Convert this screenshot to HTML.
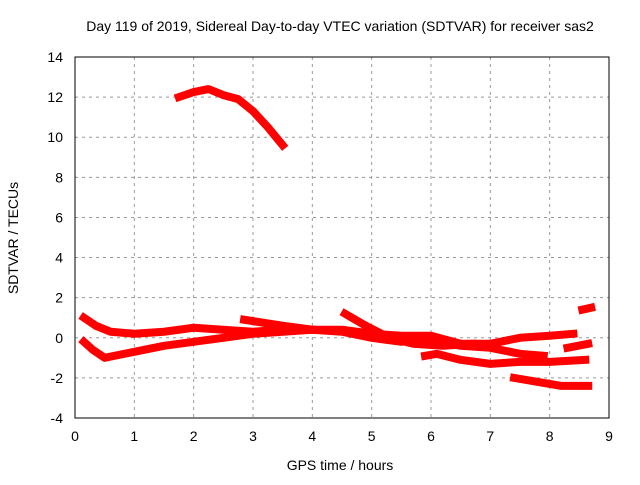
<!DOCTYPE html>
<html><head><meta charset="utf-8"><style>
body{margin:0;background:#fff}
svg text{font-family:"Liberation Sans",sans-serif;font-size:14px}
</style></head><body>
<svg id="chart" width="640" height="480">
<rect width="640" height="480" fill="#fff"/>
<text x="340" y="31" text-anchor="middle">Day 119 of 2019, Sidereal Day-to-day VTEC variation (SDTVAR) for receiver sas2</text>
<text x="340" y="470" text-anchor="middle">GPS time / hours</text>
<text transform="translate(18,238) rotate(-90)" text-anchor="middle">SDTVAR / TECUs</text>
<g id="grid"></g><g id="series"></g>
<rect x="75" y="57" width="534" height="361" fill="none" stroke="#000"/>
</svg>
<script>
const xTicks=[0,1,2,3,4,5,6,7,8,9];
const yTicks=[-4,-2,0,2,4,6,8,10,12,14];
const trackA=[[1.75,12.0],[2.0,12.25],[2.25,12.4],[2.5,12.1],[2.75,11.9],[3.0,11.3],[3.25,10.5],[3.5,9.6]];
const trackB=[[0.15,1.0],[0.35,0.6],[0.6,0.3],[1.0,0.2],[1.5,0.3],[2.0,0.5],[2.5,0.4],[3.0,0.3],[3.5,0.4],[4.0,0.4]];
const trackC=[[0.15,-0.2],[0.3,-0.6],[0.5,-1.0],[1.0,-0.7],[1.5,-0.4],[2.0,-0.2],[2.5,0.0],[3.0,0.2],[3.5,0.3],[4.0,0.4],[4.5,0.4],[5.0,0.2],[5.5,0.1],[6.0,0.1],[6.5,-0.3],[7.0,-0.3],[7.5,0.0],[8.0,0.1],[8.4,0.2]];
const trackD=[[2.85,0.9],[3.5,0.6],[4.0,0.4],[4.5,0.3],[5.0,0.0],[5.5,-0.2],[6.0,-0.1],[6.5,-0.4],[7.0,-0.5],[7.5,-0.8],[7.9,-0.9]];
const trackE=[[4.55,1.2],[4.9,0.6],[5.3,0.0],[5.7,-0.3],[6.2,-0.4],[6.7,-0.3]];
const trackF=[[5.9,-0.9],[6.1,-0.8],[6.5,-1.1],[7.0,-1.3],[7.5,-1.2],[8.0,-1.2],[8.6,-1.1]];
const trackG=[[7.4,-2.0],[7.8,-2.2],[8.2,-2.4],[8.65,-2.4]];
const trackH=[[8.3,-0.5],[8.65,-0.3]];
const trackI=[[8.55,1.4],[8.7,1.5]];
const tracks=[trackA,trackB,trackC,trackD,trackE,trackF,trackG,trackH,trackI];
const NS="http://www.w3.org/2000/svg";
const X=v=>75+v*534/9, Y=v=>418-(v+4)*361/18;
const grid=document.getElementById('grid'), ser=document.getElementById('series');
function mk(tag,at,parent){const e=document.createElementNS(NS,tag);for(const k in at)e.setAttribute(k,at[k]);parent.appendChild(e);return e;}
xTicks.forEach(t=>{
 if(t>0&&t<9){const l=mk('line',{x1:X(t),x2:X(t),y1:57,y2:418,stroke:'#999','stroke-dasharray':'3,4'},grid);
 
 }
 const tx=mk('text',{x:X(t),y:441,'text-anchor':'middle'},grid);tx.textContent=t;
 
 
});
yTicks.forEach(t=>{
 if(t>-4&&t<14){const l=mk('line',{x1:75,x2:609,y1:Y(t),y2:Y(t),stroke:'#999','stroke-dasharray':'3,4'},grid);
 
 }
 const tx=mk('text',{x:63,y:Y(t)+5,'text-anchor':'end'},grid);tx.textContent=t;
 
 
});
tracks.forEach((tr,i)=>{
 const p=mk('polyline',{points:tr.map(d=>X(d[0])+','+Y(d[1])).join(' '),fill:'none',stroke:'#f00','stroke-width':8,'stroke-linejoin':'round','stroke-linecap':'square'},ser);
 
 
});
</script>
</body></html>
